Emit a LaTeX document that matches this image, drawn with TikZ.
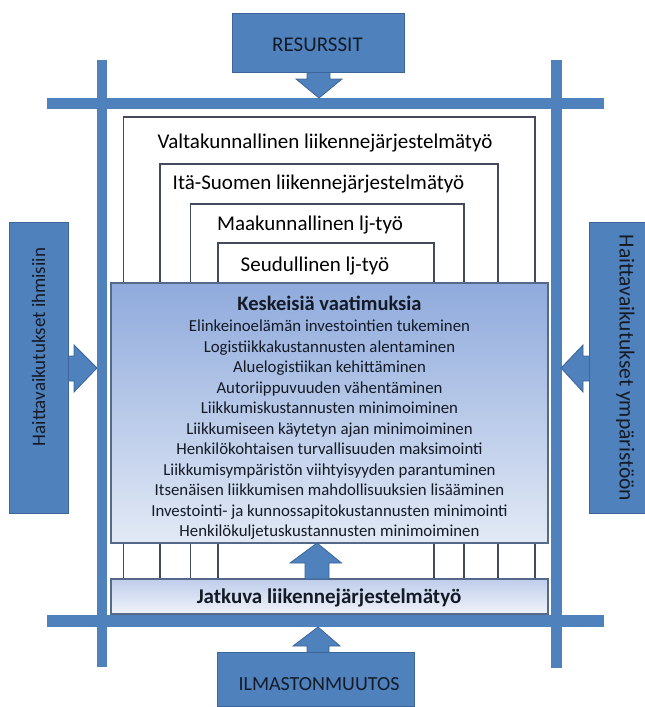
\documentclass[tikz,border=0pt]{standalone}
\usepackage{fontspec}
\setmainfont{Carlito}
\definecolor{barblue}{HTML}{4F81BD}
\definecolor{boxedge}{HTML}{3D659A}
\definecolor{nestedge}{HTML}{434A5C}
\definecolor{reqedge}{HTML}{55698A}
\definecolor{txtdark}{HTML}{141B27}
\definecolor{reqtop}{HTML}{8FAADC}
\definecolor{reqbot}{HTML}{E2E9F5}
\definecolor{jtop}{HTML}{BFCDEB}
\definecolor{jbot}{HTML}{F0F3FA}
\tikzset{
  bar/.style={fill=barblue, draw=none},
  bluebox/.style={fill=barblue, draw=boxedge, line width=0.8pt, inner sep=0pt},
  bluearrow/.style={fill=barblue, draw=boxedge, line width=0.8pt},
  nestbox/.style={fill=white, draw=nestedge, line width=1.5pt},
  nestlabel/.style={anchor=base, inner sep=0pt, font=\fontsize{21}{25}\selectfont, text=black},
  reqline/.style={anchor=base, inner sep=0pt, font=\fontsize{16.8}{20}\selectfont, text=txtdark},
  bluelabel/.style={anchor=base, inner sep=0pt, text=txtdark},
}
\begin{document}
\begin{tikzpicture}[x=1pt,y=-1pt]
\useasboundingbox (0,0) rectangle (645,707);
% nested boxes
\path[nestbox] (123.5,579) -- (123.5,117) -- (535,117) -- (535,579);
\path[nestbox] (160,579) -- (160,164) -- (498,164) -- (498,579);
\path[nestbox] (190.5,579) -- (190.5,204) -- (464,204) -- (464,579);
\path[nestbox] (218,579) -- (218,243) -- (434,243) -- (434,579);
\node[nestlabel] (t1) at (325,148.5) {Valtakunnallinen liikennejärjestelmätyö};
\node[nestlabel] (t2) at (318.5,189.5) {Itä-Suomen liikennejärjestelmätyö};
\node[nestlabel] (t3) at (310,230.5) {Maakunnallinen lj-työ};
\node[nestlabel] (t4) at (315,271.5) {Seudullinen lj-työ};
% bars
\path[bar] (46.5,98) rectangle (604,109);
\path[bar] (46.5,615) rectangle (604,627);
\path[bar] (97,60) rectangle (107,667);
\path[bar] (551,60) rectangle (562,668);
% central requirements box
\node[draw=reqedge, line width=1.5pt, top color=reqtop, bottom color=reqbot, minimum width=437pt, minimum height=260pt, inner sep=0pt] (req) at (329.5,413) {};
\node[anchor=base, inner sep=0pt, font=\fontsize{20.5}{24}\selectfont\bfseries, text=txtdark] (reqtitle) at (329.5,310) {Keskeisiä vaatimuksia};
\foreach \t [count=\i from 0] in {Elinkeinoelämän investointien tukeminen, Logistiikkakustannusten alentaminen, Aluelogistiikan kehittäminen, Autoriippuvuuden vähentäminen, Liikkumiskustannusten minimoiminen, Liikkumiseen käytetyn ajan minimoiminen, Henkilökohtaisen turvallisuuden maksimointi, Liikkumisympäristön viihtyisyyden parantuminen, Itsenäisen liikkumisen mahdollisuuksien lisääminen, Investointi- ja kunnossapitokustannusten minimointi, Henkilökuljetuskustannusten minimoiminen}
  \node[reqline] (r\i) at (329.5,331.5+20.5*\i) {\t};
% continuous work box
\node[draw=reqedge, line width=1.5pt, top color=jtop, bottom color=jbot, minimum width=437pt, minimum height=35pt, inner sep=0pt] (jat) at (329.5,596.5) {};
\node[anchor=base, inner sep=0pt, font=\fontsize{21}{25}\selectfont\bfseries, text=txtdark] (jattext) at (329,603.5) {Jatkuva liikennejärjestelmätyö};
% arrow from jatkuva to requirements
\path[bluearrow] (305,579) -- (305,563) -- (290,563) -- (317,543) -- (341.5,563) -- (329,563) -- (329,579) -- cycle;
% RESURSSIT
\path[bluearrow] (307,70) -- (307,79) -- (296,79) -- (319,98) -- (342,79) -- (330,79) -- (330,70) -- cycle;
\node[bluebox, minimum width=172pt, minimum height=59pt] (res) at (318,42.5) {};
\node[bluelabel, font=\fontsize{21}{25}\selectfont] (restext) at (317.5,51) {RESURSSIT};
% ILMASTONMUUTOS
\path[bluearrow] (307,655) -- (307,646) -- (293,646) -- (318,627) -- (340,646) -- (329,646) -- (329,655) -- cycle;
\node[bluebox, minimum width=197pt, minimum height=54pt] (ilm) at (316,679) {};
\node[bluelabel, font=\fontsize{20}{24}\selectfont] (ilmtext) at (319,690) {ILMASTONMUUTOS};
% left
\path[bluearrow] (66,356) -- (74,356) -- (74,345) -- (97,368) -- (74,392) -- (74,381) -- (66,381) -- cycle;
\node[bluebox, minimum width=59pt, minimum height=291pt] (left) at (38.5,367.5) {};
\node[bluelabel, rotate=90, font=\fontsize{19}{23}\selectfont] (lefttext) at (45,347) {Haittavaikutukset ihmisiin};
% right
\path[bluearrow] (591,356) -- (583,356) -- (583,345) -- (561,368) -- (583,392) -- (583,381) -- (591,381) -- cycle;
\node[bluebox, minimum width=58pt, minimum height=291pt] (right) at (618,367.5) {};
\node[bluelabel, rotate=-90, font=\fontsize{21.5}{25}\selectfont] (righttext) at (619.5,368) {Haittavaikutukset ympäristöön};
\end{tikzpicture}
\end{document}
